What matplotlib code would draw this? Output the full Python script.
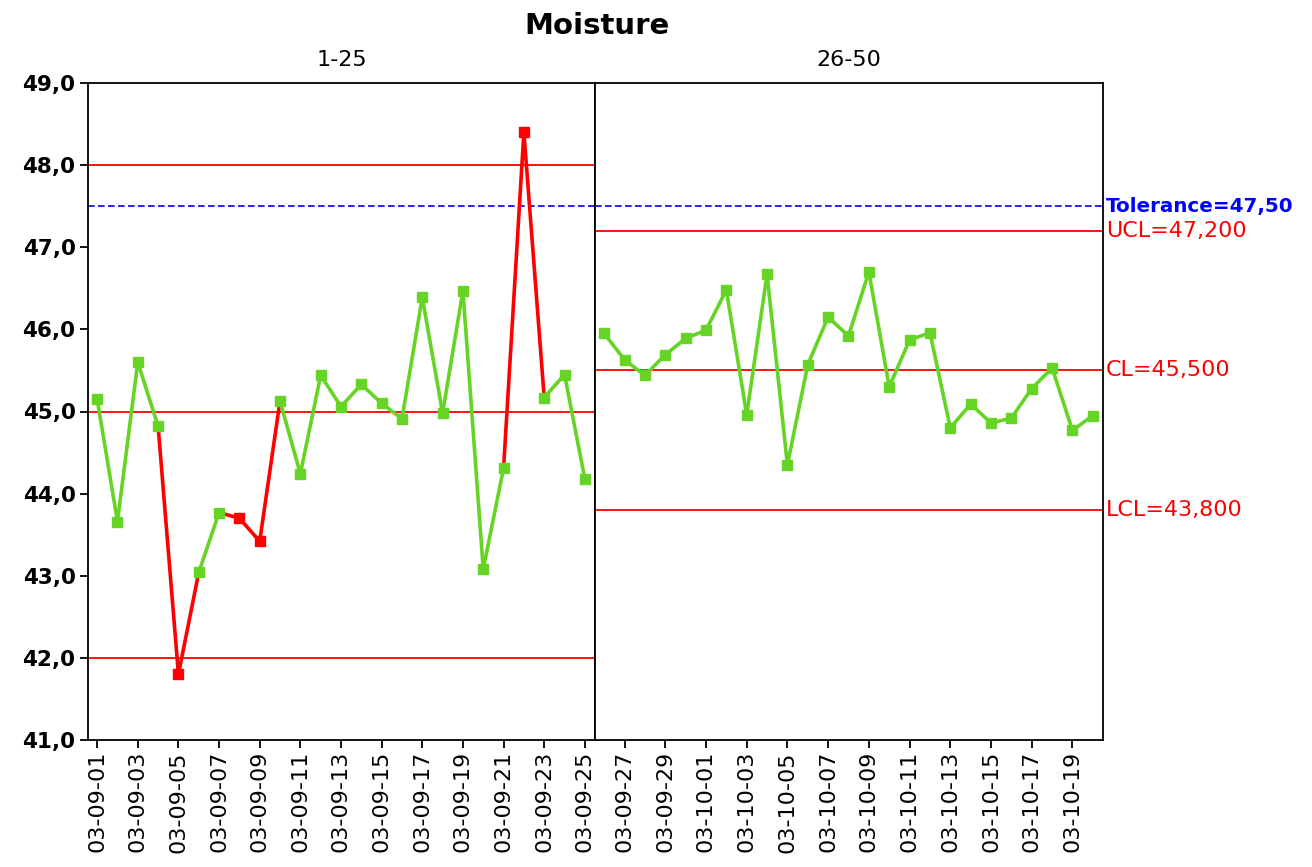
import matplotlib
matplotlib.use("Agg")
import matplotlib.pyplot as plt
import matplotlib.transforms as mtransforms

# ---------------- data ----------------
dates_1 = ["03-09-%02d" % d for d in range(1, 26)]
dates_2 = ["03-09-%02d" % d for d in range(26, 31)] + ["03-10-%02d" % d for d in range(1, 21)]

values_1 = [45.15, 43.66, 45.60, 44.82, 41.80, 43.04, 43.77, 43.70, 43.42, 45.13,
            44.24, 45.44, 45.06, 45.33, 45.10, 44.91, 46.39, 44.98, 46.47, 43.08,
            44.31, 48.40, 45.17, 45.45, 44.18]
values_2 = [45.95, 45.63, 45.44, 45.69, 45.89, 45.99, 46.48, 44.96, 46.67, 44.35,
            45.57, 46.15, 45.92, 46.70, 45.30, 45.87, 45.96, 44.80, 45.09, 44.86,
            44.92, 45.28, 45.53, 44.77, 44.95]

# sample numbers (1-based, within panel) flagged as out of control
flagged_1 = [5, 8, 9, 22]
flagged_2 = []

limits_1 = {"UCL": 48.0, "CL": 45.0, "LCL": 42.0}
limits_2 = {"UCL": 47.2, "CL": 45.5, "LCL": 43.8}
limit_labels_2 = ["UCL=47,200", "CL=45,500", "LCL=43,800"]
tolerance = 47.5
tolerance_label = "Tolerance=47,50"

panel_titles = ["1-25", "26-50"]
title = "Moisture"
y_ticks = [41, 42, 43, 44, 45, 46, 47, 48, 49]

GREEN = "#66d425"
RED = "#ff0000"
BLUE = "#0000ff"

# ---------------- figure ----------------
fig = plt.figure(figsize=(13.12, 8.67), dpi=100)
W, H = 1312, 867
left, mid, right = 88 / W, 595 / W, 1103 / W
bottom, top = 1 - 740 / H, 1 - 83 / H
ax1 = fig.add_axes([left, bottom, mid - left, top - bottom])
ax2 = fig.add_axes([mid, bottom, right - mid, top - bottom])


def draw_panel(ax, dates, values, flagged, limits, offset):
    n = len(values)
    xs = list(range(n))
    flags = [(i + 1) in flagged for i in range(n)]
    for v in limits.values():
        ax.axhline(v, color=RED, lw=1.3, zorder=1)
    ax.axhline(tolerance, color=BLUE, lw=1.2, ls=(0, (4, 2)), zorder=1)
    for i in range(n - 1):
        c = RED if (flags[i] or flags[i + 1]) else GREEN
        ax.plot(xs[i:i + 2], values[i:i + 2], color=c, lw=2.6, zorder=2,
                solid_capstyle="butt")
    for i in range(n):
        ax.plot(xs[i], values[i], marker="s", ms=7, color=RED if flags[i] else GREEN,
                mec=RED if flags[i] else GREEN, zorder=3)
    ax.set_ylim(41, 49)
    ax.set_xlim(-0.45, n - 0.5)
    # ticks on every other sample of the combined series
    tick_idx = [i for i in range(n) if (i + offset) % 2 == 0]
    ax.set_xticks(tick_idx)
    ax.set_xticklabels([dates[i] for i in tick_idx], rotation=90, fontsize=16)
    ax.tick_params(axis="x", direction="out", length=6, width=1.3, pad=2)
    for s in ax.spines.values():
        s.set_linewidth(1.3)


draw_panel(ax1, dates_1, values_1, flagged_1, limits_1, 0)
draw_panel(ax2, dates_2, values_2, flagged_2, limits_2, 25)

ax1.set_yticks(y_ticks)
ax1.set_yticklabels([("%.1f" % v).replace(".", ",") for v in y_ticks],
                    fontsize=15.5, fontweight="bold")
ax1.tick_params(axis="y", direction="out", length=6, width=1.3, pad=3)
ax2.set_yticks([])

# right-hand labels for panel 2 limits
trans = mtransforms.blended_transform_factory(ax2.transAxes, ax2.transData)
for v, lab in zip(limits_2.values(), limit_labels_2):
    ax2.text(1.006, v, lab, color=RED, fontsize=16, va="center", ha="left",
             transform=trans)
ax2.text(1.006, tolerance, tolerance_label, color=BLUE, fontsize=14.3,
         fontweight="bold", va="center", ha="left", transform=trans)

fig.text(597 / W, 1 - 26 / H, title, fontsize=21, fontweight="bold",
         ha="center", va="center")
fig.text((left + mid) / 2, 1 - 60 / H, panel_titles[0], fontsize=16,
         ha="center", va="center")
fig.text((mid + right) / 2, 1 - 60 / H, panel_titles[1], fontsize=16,
         ha="center", va="center")

fig.savefig("out.png", dpi=100)
